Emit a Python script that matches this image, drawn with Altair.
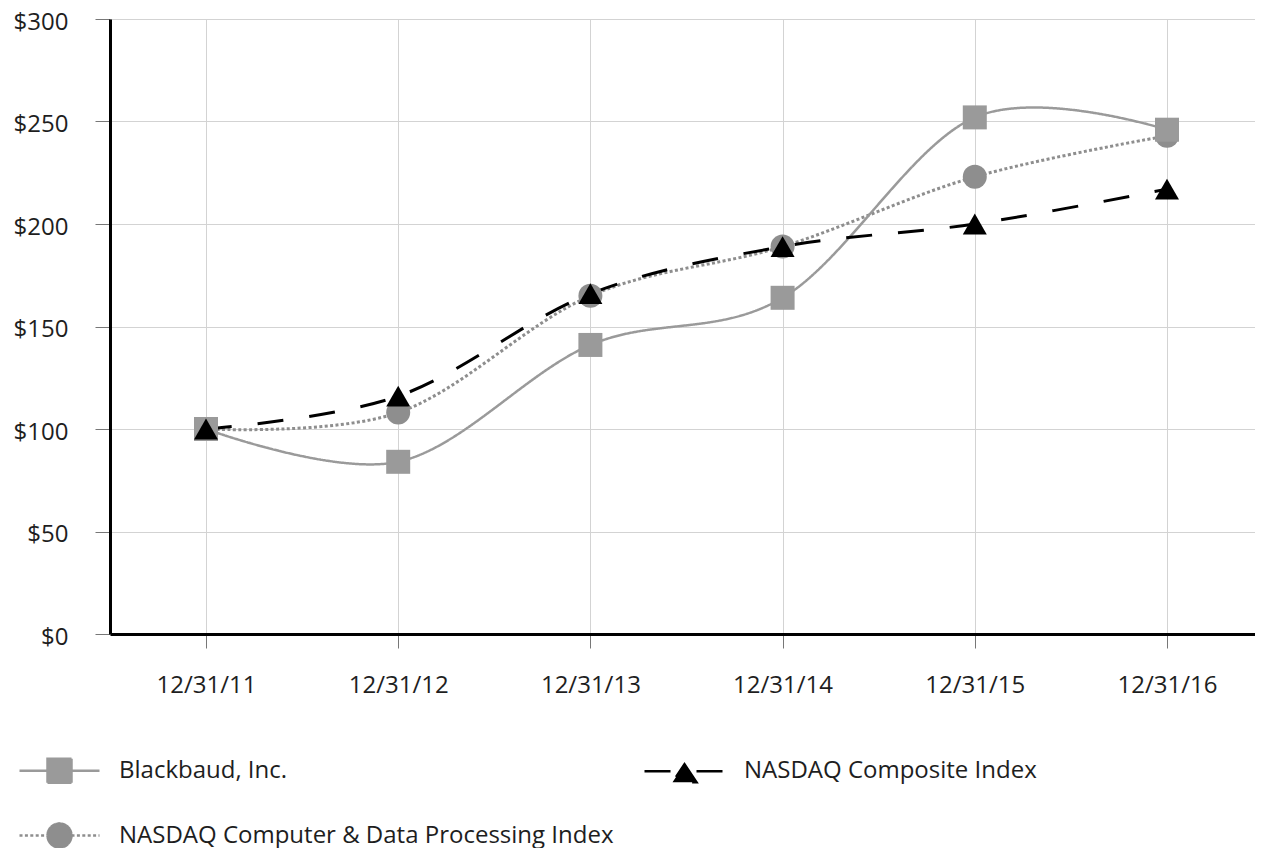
import math
import altair as alt
import pandas as pd

# ---- data ----
dates = ["12/31/11", "12/31/12", "12/31/13", "12/31/14", "12/31/15", "12/31/16"]
blackbaud = [100, 84, 141, 164, 252, 246]
nasdaq_composite = [100, 116, 166, 189, 200, 217]
nasdaq_computer = [100, 108, 165, 189, 223, 243]
series_names = [
    "Blackbaud, Inc.",
    "NASDAQ Composite Index",
    "NASDAQ Computer & Data Processing Index",
]
y_ticks = [0, 50, 100, 150, 200, 250, 300]

rows = []
for name, vals in [(series_names[2], nasdaq_computer),
                   (series_names[0], blackbaud),
                   (series_names[1], nasdaq_composite)]:
    for d, v in zip(dates, vals):
        rows.append({"date": d, "value": v, "series": name})
df = pd.DataFrame(rows)

FONT = "Open Sans"
TEXT = "#1e1e1e"
GRID = "#d3d3d3"
colors = ["#9a9a9a", "#000000", "#8e8e8e"]
dashes = [[1, 0], [26, 26], [3, 2.4]]
widths = [2.5, 3, 3]
marker_shapes = ["square", "triangle-up", "circle"]

# legend glyphs: line + marker (unit box is [-1, 1])
_r = 0.3
_ring = "".join(
    "M{:.4f},{:.4f}L{:.4f},{:.4f}".format(
        _r * math.cos(2 * math.pi * i / 40), _r * math.sin(2 * math.pi * i / 40),
        _r * math.cos(2 * math.pi * (i + 1) / 40), _r * math.sin(2 * math.pi * (i + 1) / 40))
    for i in range(40)
)
legend_paths = [
    "M-1,0L-0.3,0M0.3,0L1,0M-0.3,-0.3L0.3,-0.3L0.3,0.3L-0.3,0.3Z",
    "M-1,0L-0.3,0M0.3,0L1,0M0,-0.17L0.3,0.28L-0.3,0.28Z",
    "M-1,0L-0.3,0M0.3,0L1,0M0.3,0A0.3,0.3 0 1,1 -0.3,0A0.3,0.3 0 1,1 0.3,0Z" + _ring,
]

color_scale = alt.Scale(domain=series_names, range=colors)
dash_scale = alt.Scale(domain=series_names, range=dashes)
lshape_scale = alt.Scale(domain=series_names, range=legend_paths)

x_enc = alt.X(
    "date:N", sort=dates,
    scale=alt.Scale(type="point", padding=0.4787, align=0.5217),
    axis=alt.Axis(title=None, labelAngle=0, labelFont=FONT, labelFontSize=24,
                  labelColor=TEXT, labelPadding=25, tickSize=14, tickColor="#777777",
                  tickWidth=1, domainColor="#000000", domainWidth=3,
                  grid=True, gridColor=GRID, gridWidth=1),
)
y_enc = alt.Y(
    "value:Q",
    scale=alt.Scale(domain=[0, 300], nice=False, zero=True),
    axis=alt.Axis(title=None, values=y_ticks, labelExpr="'$' + datum.value",
                  labelFont=FONT, labelFontSize=24, labelColor=TEXT,
                  labelPadding=27, labelOffset=3, tickSize=15, tickColor="#777777",
                  tickWidth=1, domainColor="#000000", domainWidth=3,
                  grid=True, gridColor=GRID, gridWidth=1),
)

base = alt.Chart(df)

line_layers = []
for idx in [2, 0, 1]:
    line_layers.append(
        base.transform_filter(alt.datum.series == series_names[idx])
        .mark_line(interpolate="cardinal", stroke=colors[idx],
                   strokeDash=dashes[idx], strokeWidth=widths[idx])
        .encode(x=x_enc, y=y_enc)
    )

point_layers = []
for idx in [2, 0, 1]:
    point_layers.append(
        base.transform_filter(alt.datum.series == series_names[idx])
        .mark_point(filled=True, opacity=1, size=576)
        .encode(x=x_enc, y=y_enc,
                shape=alt.value(marker_shapes[idx]),
                fill=alt.value(colors[idx]))
    )

leg = alt.Legend(
    title=None, orient="none", legendX=-92, legendY=710, columns=2,
    direction="horizontal", padding=0, symbolSize=6400, symbolStrokeWidth=2.5,
    symbolOpacity=1, symbolOffset=0, labelFont=FONT, labelFontSize=24,
    labelColor=TEXT, labelLimit=1000, labelOffset=18, rowPadding=6,
    columnPadding=25,
)

legend_layer = base.mark_point(filled=True, opacity=0, strokeWidth=2.5).encode(
    x=x_enc, y=y_enc,
    fill=alt.Fill("series:N", scale=color_scale, legend=leg),
    stroke=alt.Stroke("series:N", scale=color_scale, legend=leg),
    shape=alt.Shape("series:N", scale=lshape_scale, legend=leg),
    strokeDash=alt.StrokeDash("series:N", scale=dash_scale, legend=leg),
)

chart = alt.layer(*line_layers, *point_layers, legend_layer).properties(
    width=1145, height=615,
    padding={"left": 102, "top": 11, "right": 0, "bottom": 214},
    autosize=alt.AutoSizeParams(type="none"),
    background="white",
).configure_view(stroke=None)

chart.save("out.html", embed_options={"renderer": "svg", "actions": False})
